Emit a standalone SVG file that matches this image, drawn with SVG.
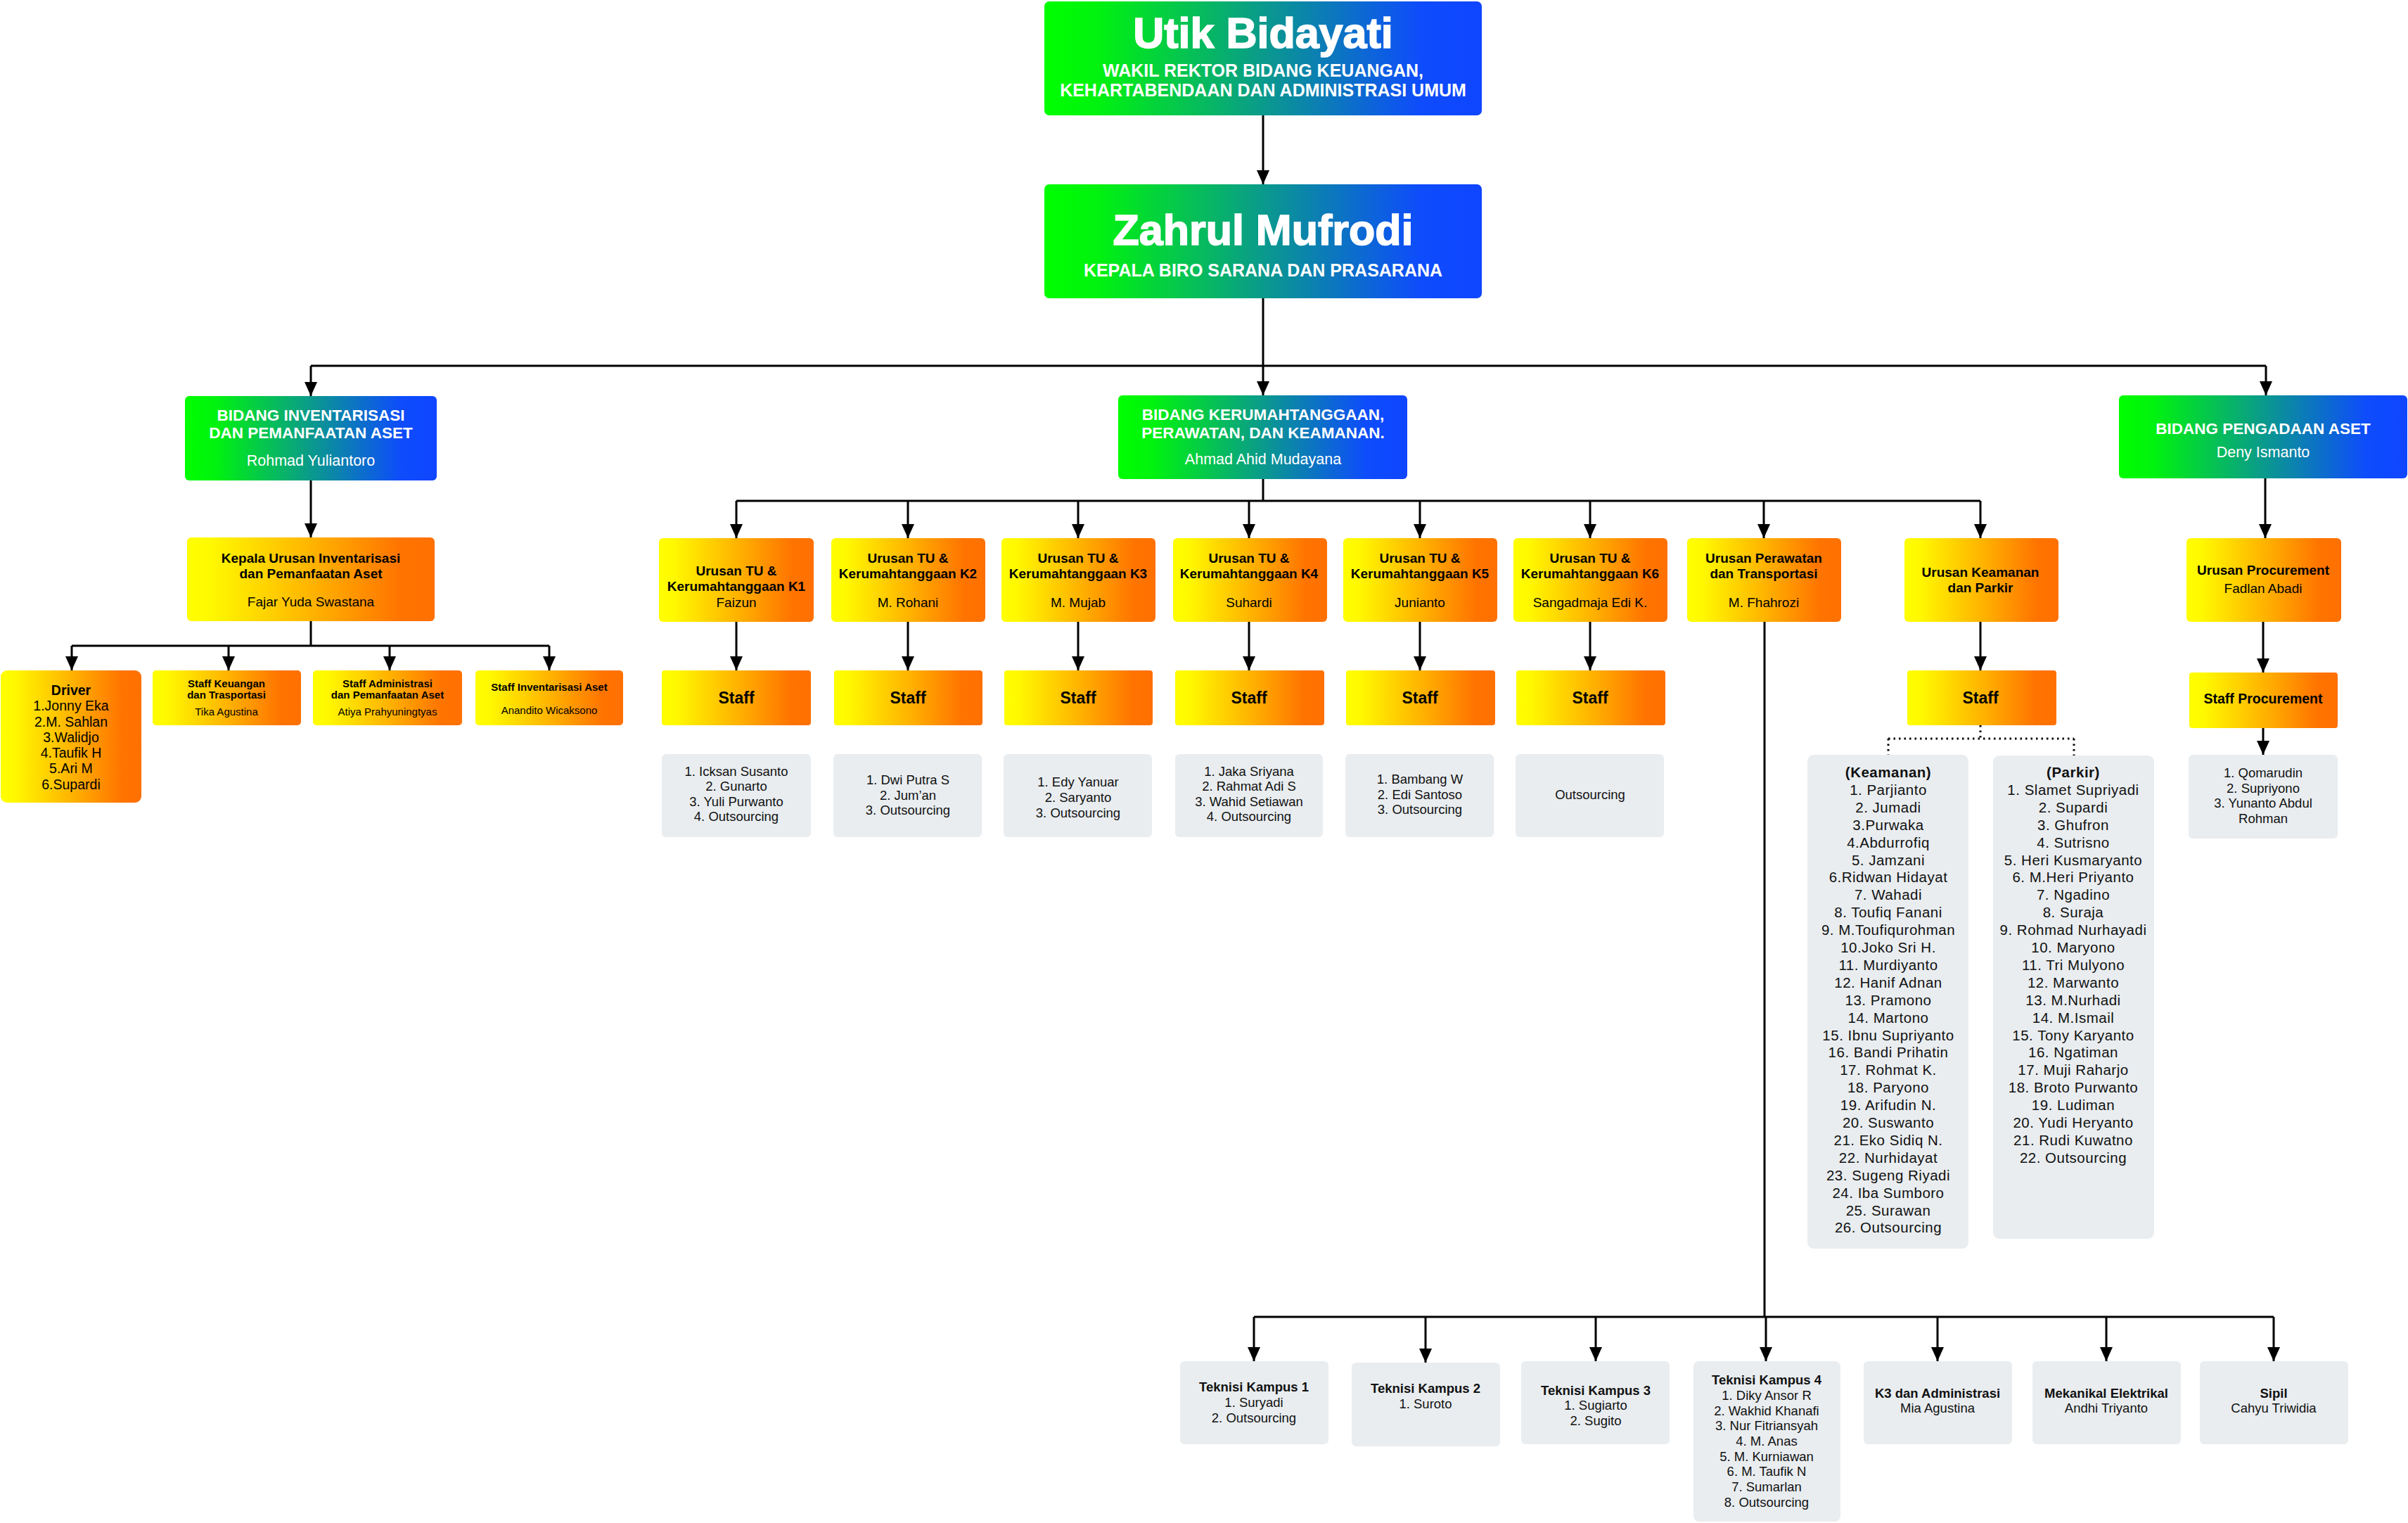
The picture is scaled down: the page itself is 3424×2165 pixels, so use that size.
<svg xmlns="http://www.w3.org/2000/svg" width="3424" height="2165" viewBox="0 0 3424 2165">
<defs>
<linearGradient id="gb" x1="0" y1="0" x2="1" y2="0">
<stop offset="0" stop-color="#00ff00"/><stop offset="0.12" stop-color="#00f30e"/><stop offset="0.5" stop-color="#0a9a8c"/><stop offset="0.86" stop-color="#0e4cfc"/><stop offset="1" stop-color="#0f45ff"/>
</linearGradient>
<linearGradient id="yo" x1="0" y1="0" x2="1" y2="0">
<stop offset="0" stop-color="#ffff00"/><stop offset="0.1" stop-color="#fff800"/><stop offset="0.5" stop-color="#ffb400"/><stop offset="0.86" stop-color="#ff7400"/><stop offset="1" stop-color="#ff7000"/>
</linearGradient>
<marker id="ah" viewBox="0 0 20 18" refX="20" refY="9" markerWidth="20" markerHeight="18" markerUnits="userSpaceOnUse" orient="auto">
<path d="M0,0 L20,9 L0,18 Z" fill="#000"/>
</marker>
<style>
text{font-family:"Liberation Sans",Arial,sans-serif;text-anchor:middle}
.g{fill:url(#gb)}
.o{fill:url(#yo)}
.l{fill:#e9edf0}
.w{fill:#fff}
.k{fill:#000}
.d{fill:#111}
.b{font-weight:bold}
.t1{font-size:61px;font-weight:bold;stroke:#fff;stroke-width:1.6px}
.t2{font-size:25px;font-weight:bold}
.bd{font-size:22.5px;font-weight:bold}
.bn{font-size:21.5px}
.u{font-size:19px}
.st{font-size:23px;font-weight:bold}
.ls{font-size:18.5px}
.sm{font-size:15px}
.kp{font-size:20.5px;letter-spacing:0.5px}
.c{fill:none;stroke:#000;stroke-width:3}
.ca{fill:none;stroke:#000;stroke-width:3;marker-end:url(#ah)}
.dt{fill:none;stroke:#000;stroke-width:3;stroke-dasharray:2.5 5}
</style>
</defs>
<rect width="3424" height="2165" fill="#fff"/>

<g id="connectors">
<path class="ca" d="M1796,164 V262"/>
<path class="c" d="M1796,424 V520"/>
<path class="c" d="M442,520 H3222"/>
<path class="ca" d="M442,520 V563"/>
<path class="ca" d="M1796,520 V562"/>
<path class="ca" d="M3222,520 V562"/>
<path class="ca" d="M442,683 V764"/>
<path class="c" d="M442,883 V918"/>
<path class="c" d="M102,918 H781"/>
<path class="ca" d="M102,918 V953"/>
<path class="ca" d="M325,918 V953"/>
<path class="ca" d="M554,918 V953"/>
<path class="ca" d="M781,918 V953"/>
<path class="c" d="M1796,681 V712"/>
<path class="c" d="M1047,712 H2816"/>
<path class="ca" d="M1047,712 V765"/>
<path class="ca" d="M1291,712 V765"/>
<path class="ca" d="M1533,712 V765"/>
<path class="ca" d="M1776,712 V765"/>
<path class="ca" d="M2019,712 V765"/>
<path class="ca" d="M2261,712 V765"/>
<path class="ca" d="M2508,712 V765"/>
<path class="ca" d="M2816,712 V765"/>
<path class="ca" d="M1047,884 V953"/>
<path class="ca" d="M1291,884 V953"/>
<path class="ca" d="M1533,884 V953"/>
<path class="ca" d="M1776,884 V953"/>
<path class="ca" d="M2019,884 V953"/>
<path class="ca" d="M2261,884 V953"/>
<path class="ca" d="M2816,884 V953"/>
<path class="c" d="M2509,884 V1872"/>
<path class="c" d="M1783,1872 H3233"/>
<path class="ca" d="M1783,1872 V1935"/>
<path class="ca" d="M2027,1872 V1937"/>
<path class="ca" d="M2269,1872 V1935"/>
<path class="ca" d="M2511,1872 V1935"/>
<path class="ca" d="M2755,1872 V1935"/>
<path class="ca" d="M2995,1872 V1935"/>
<path class="ca" d="M3233,1872 V1935"/>
<path class="dt" d="M2816,1031 V1050 M2685,1050 H2949 M2685,1050 V1073 M2949,1050 V1074"/>
<path class="ca" d="M3221,680 V765"/>
<path class="ca" d="M3218,884 V956"/>
<path class="ca" d="M3218,1035 V1073"/>
</g>

<g id="wr">
<rect class="g" x="1485" y="2" width="622" height="162" rx="7"/>
<text class="w t1" x="1796" y="68">Utik Bidayati</text>
<text class="w t2" x="1796" y="109">WAKIL REKTOR BIDANG KEUANGAN,</text>
<text class="w t2" x="1796" y="137">KEHARTABENDAAN DAN ADMINISTRASI UMUM</text>
</g>
<g id="kabiro">
<rect class="g" x="1485" y="262" width="622" height="162" rx="7"/>
<text class="w t1" x="1796" y="348">Zahrul Mufrodi</text>
<text class="w t2" x="1796" y="393">KEPALA BIRO SARANA DAN PRASARANA</text>
</g>

<g id="bidang-inv">
<rect class="g" x="263" y="563" width="358" height="120" rx="6"/>
<text class="w bd" x="442" y="598">BIDANG INVENTARISASI</text>
<text class="w bd" x="442" y="623">DAN PEMANFAATAN ASET</text>
<text class="w bn" x="442" y="662">Rohmad Yuliantoro</text>
</g>
<g id="bidang-ker">
<rect class="g" x="1590" y="562" width="411" height="119" rx="6"/>
<text class="w bd" x="1796" y="597">BIDANG KERUMAHTANGGAAN,</text>
<text class="w bd" x="1796" y="623">PERAWATAN, DAN KEAMANAN.</text>
<text class="w bn" x="1796" y="660">Ahmad Ahid Mudayana</text>
</g>
<g id="bidang-peng">
<rect class="g" x="3013" y="562" width="410" height="118" rx="6"/>
<text class="w bd" x="3218" y="617">BIDANG PENGADAAN ASET</text>
<text class="w bn" x="3218" y="650">Deny Ismanto</text>
</g>

<g id="kepala-inv">
<rect class="o" x="266" y="764" width="352" height="119" rx="6"/>
<text class="k u b" x="442" y="800">Kepala Urusan Inventarisasi</text>
<text class="k u b" x="442" y="822">dan Pemanfaatan Aset</text>
<text class="k u" x="442" y="862">Fajar Yuda Swastana</text>
</g>

<g id="driver">
<rect class="o" x="1" y="953" width="200" height="188" rx="9"/>
<text class="k b" style="font-size:19.5px" x="101" y="988">Driver</text>
<text class="k" style="font-size:19.5px"><tspan x="101" y="1010">1.Jonny Eka</tspan><tspan x="101" y="1033">2.M. Sahlan</tspan><tspan x="101" y="1055">3.Walidjo</tspan><tspan x="101" y="1077">4.Taufik H</tspan><tspan x="101" y="1099">5.Ari M</tspan><tspan x="101" y="1122">6.Supardi</tspan></text>
</g>
<g id="staff-keu">
<rect class="o" x="217" y="953" width="211" height="78" rx="5"/>
<text class="k sm b" x="322" y="977">Staff Keuangan</text>
<text class="k sm b" x="322" y="993">dan Trasportasi</text>
<text class="k sm" x="322" y="1017">Tika Agustina</text>
</g>
<g id="staff-adm">
<rect class="o" x="445" y="953" width="212" height="78" rx="5"/>
<text class="k sm b" x="551" y="977">Staff Administrasi</text>
<text class="k sm b" x="551" y="993">dan Pemanfaatan Aset</text>
<text class="k sm" x="551" y="1017">Atiya Prahyuningtyas</text>
</g>
<g id="staff-inv">
<rect class="o" x="676" y="953" width="210" height="78" rx="5"/>
<text class="k sm b" x="781" y="982">Staff Inventarisasi Aset</text>
<text class="k sm" x="781" y="1015">Anandito Wicaksono</text>
</g>

<g id="k1">
<rect class="o" x="937" y="765" width="220" height="119" rx="6"/>
<text class="k u b" x="1047" y="818">Urusan TU &amp;</text>
<text class="k u b" x="1047" y="840">Kerumahtanggaan K1</text>
<text class="k u" x="1047" y="863">Faizun</text>
</g>
<g id="k2">
<rect class="o" x="1182" y="765" width="219" height="119" rx="6"/>
<text class="k u b" x="1291" y="800">Urusan TU &amp;</text>
<text class="k u b" x="1291" y="822">Kerumahtanggaan K2</text>
<text class="k u" x="1291" y="863">M. Rohani</text>
</g>
<g id="k3">
<rect class="o" x="1424" y="765" width="219" height="119" rx="6"/>
<text class="k u b" x="1533" y="800">Urusan TU &amp;</text>
<text class="k u b" x="1533" y="822">Kerumahtanggaan K3</text>
<text class="k u" x="1533" y="863">M. Mujab</text>
</g>
<g id="k4">
<rect class="o" x="1668" y="765" width="219" height="119" rx="6"/>
<text class="k u b" x="1776" y="800">Urusan TU &amp;</text>
<text class="k u b" x="1776" y="822">Kerumahtanggaan K4</text>
<text class="k u" x="1776" y="863">Suhardi</text>
</g>
<g id="k5">
<rect class="o" x="1910" y="765" width="219" height="119" rx="6"/>
<text class="k u b" x="2019" y="800">Urusan TU &amp;</text>
<text class="k u b" x="2019" y="822">Kerumahtanggaan K5</text>
<text class="k u" x="2019" y="863">Junianto</text>
</g>
<g id="k6">
<rect class="o" x="2152" y="765" width="219" height="119" rx="6"/>
<text class="k u b" x="2261" y="800">Urusan TU &amp;</text>
<text class="k u b" x="2261" y="822">Kerumahtanggaan K6</text>
<text class="k u" x="2261" y="863">Sangadmaja Edi K.</text>
</g>
<g id="perawatan">
<rect class="o" x="2399" y="765" width="219" height="119" rx="6"/>
<text class="k u b" x="2508" y="800">Urusan Perawatan</text>
<text class="k u b" x="2508" y="822">dan Transportasi</text>
<text class="k u" x="2508" y="863">M. Fhahrozi</text>
</g>
<g id="keamanan">
<rect class="o" x="2708" y="765" width="219" height="119" rx="6"/>
<text class="k u b" x="2816" y="820">Urusan Keamanan</text>
<text class="k u b" x="2816" y="842">dan Parkir</text>
</g>
<g id="procurement">
<rect class="o" x="3109" y="765" width="220" height="119" rx="6"/>
<text class="k u b" x="3218" y="817">Urusan Procurement</text>
<text class="k u" x="3218" y="843">Fadlan Abadi</text>
</g>

<g id="staff-k1"><rect class="o" x="941" y="953" width="212" height="78" rx="4"/><text class="k st" x="1047" y="1000">Staff</text></g>
<g id="staff-k2"><rect class="o" x="1186" y="953" width="211" height="78" rx="4"/><text class="k st" x="1291" y="1000">Staff</text></g>
<g id="staff-k3"><rect class="o" x="1428" y="953" width="211" height="78" rx="4"/><text class="k st" x="1533" y="1000">Staff</text></g>
<g id="staff-k4"><rect class="o" x="1671" y="953" width="212" height="78" rx="4"/><text class="k st" x="1776" y="1000">Staff</text></g>
<g id="staff-k5"><rect class="o" x="1914" y="953" width="212" height="78" rx="4"/><text class="k st" x="2019" y="1000">Staff</text></g>
<g id="staff-k6"><rect class="o" x="2156" y="953" width="212" height="78" rx="4"/><text class="k st" x="2261" y="1000">Staff</text></g>
<g id="staff-keamanan"><rect class="o" x="2712" y="953" width="212" height="78" rx="4"/><text class="k st" x="2816" y="1000">Staff</text></g>
<g id="staff-proc"><rect class="o" x="3113" y="956" width="211" height="79" rx="4"/><text class="k b" style="font-size:19.5px" x="3218" y="1000">Staff Procurement</text></g>

<g id="list-k1">
<rect class="l" x="941" y="1072" width="212" height="118" rx="6"/>
<text class="d ls"><tspan x="1047" y="1103">1. Icksan Susanto</tspan><tspan x="1047" y="1124">2. Gunarto</tspan><tspan x="1047" y="1146">3. Yuli Purwanto</tspan><tspan x="1047" y="1167">4. Outsourcing</tspan></text>
</g>
<g id="list-k2">
<rect class="l" x="1185" y="1072" width="211" height="118" rx="6"/>
<text class="d ls"><tspan x="1291" y="1115">1. Dwi Putra S</tspan><tspan x="1291" y="1137">2. Jum’an</tspan><tspan x="1291" y="1158">3. Outsourcing</tspan></text>
</g>
<g id="list-k3">
<rect class="l" x="1427" y="1072" width="211" height="118" rx="6"/>
<text class="d ls"><tspan x="1533" y="1118">1. Edy Yanuar</tspan><tspan x="1533" y="1140">2. Saryanto</tspan><tspan x="1533" y="1162">3. Outsourcing</tspan></text>
</g>
<g id="list-k4">
<rect class="l" x="1671" y="1072" width="210" height="118" rx="6"/>
<text class="d ls"><tspan x="1776" y="1103">1. Jaka Sriyana</tspan><tspan x="1776" y="1124">2. Rahmat Adi S</tspan><tspan x="1776" y="1146">3. Wahid Setiawan</tspan><tspan x="1776" y="1167">4. Outsourcing</tspan></text>
</g>
<g id="list-k5">
<rect class="l" x="1913" y="1072" width="211" height="118" rx="6"/>
<text class="d ls"><tspan x="2019" y="1114">1. Bambang W</tspan><tspan x="2019" y="1136">2. Edi Santoso</tspan><tspan x="2019" y="1157">3. Outsourcing</tspan></text>
</g>
<g id="list-k6">
<rect class="l" x="2155" y="1072" width="211" height="118" rx="6"/>
<text class="d ls" x="2261" y="1136">Outsourcing</text>
</g>

<g id="list-keamanan">
<rect class="l" x="2570" y="1073" width="229" height="702" rx="9"/>
<text class="d kp"><tspan class="b" x="2685" y="1105">(Keamanan)</tspan><tspan x="2685" dy="24.9">1. Parjianto</tspan><tspan x="2685" dy="24.9">2. Jumadi</tspan><tspan x="2685" dy="24.9">3.Purwaka</tspan><tspan x="2685" dy="24.9">4.Abdurrofiq</tspan><tspan x="2685" dy="24.9">5. Jamzani</tspan><tspan x="2685" dy="24.9">6.Ridwan Hidayat</tspan><tspan x="2685" dy="24.9">7. Wahadi</tspan><tspan x="2685" dy="24.9">8. Toufiq Fanani</tspan><tspan x="2685" dy="24.9">9. M.Toufiqurohman</tspan><tspan x="2685" dy="24.9">10.Joko Sri H.</tspan><tspan x="2685" dy="24.9">11. Murdiyanto</tspan><tspan x="2685" dy="24.9">12. Hanif Adnan</tspan><tspan x="2685" dy="24.9">13. Pramono</tspan><tspan x="2685" dy="24.9">14. Martono</tspan><tspan x="2685" dy="24.9">15. Ibnu Supriyanto</tspan><tspan x="2685" dy="24.9">16. Bandi Prihatin</tspan><tspan x="2685" dy="24.9">17. Rohmat K.</tspan><tspan x="2685" dy="24.9">18. Paryono</tspan><tspan x="2685" dy="24.9">19. Arifudin N.</tspan><tspan x="2685" dy="24.9">20. Suswanto</tspan><tspan x="2685" dy="24.9">21. Eko Sidiq N.</tspan><tspan x="2685" dy="24.9">22. Nurhidayat</tspan><tspan x="2685" dy="24.9">23. Sugeng Riyadi</tspan><tspan x="2685" dy="24.9">24. Iba Sumboro</tspan><tspan x="2685" dy="24.9">25. Surawan</tspan><tspan x="2685" dy="24.9">26. Outsourcing</tspan></text>
</g>
<g id="list-parkir">
<rect class="l" x="2834" y="1074" width="229" height="687" rx="9"/>
<text class="d kp"><tspan class="b" x="2948" y="1105">(Parkir)</tspan><tspan x="2948" dy="24.9">1. Slamet Supriyadi</tspan><tspan x="2948" dy="24.9">2. Supardi</tspan><tspan x="2948" dy="24.9">3. Ghufron</tspan><tspan x="2948" dy="24.9">4. Sutrisno</tspan><tspan x="2948" dy="24.9">5. Heri Kusmaryanto</tspan><tspan x="2948" dy="24.9">6. M.Heri Priyanto</tspan><tspan x="2948" dy="24.9">7. Ngadino</tspan><tspan x="2948" dy="24.9">8. Suraja</tspan><tspan x="2948" dy="24.9">9. Rohmad Nurhayadi</tspan><tspan x="2948" dy="24.9">10. Maryono</tspan><tspan x="2948" dy="24.9">11. Tri Mulyono</tspan><tspan x="2948" dy="24.9">12. Marwanto</tspan><tspan x="2948" dy="24.9">13. M.Nurhadi</tspan><tspan x="2948" dy="24.9">14. M.Ismail</tspan><tspan x="2948" dy="24.9">15. Tony Karyanto</tspan><tspan x="2948" dy="24.9">16. Ngatiman</tspan><tspan x="2948" dy="24.9">17. Muji Raharjo</tspan><tspan x="2948" dy="24.9">18. Broto Purwanto</tspan><tspan x="2948" dy="24.9">19. Ludiman</tspan><tspan x="2948" dy="24.9">20. Yudi Heryanto</tspan><tspan x="2948" dy="24.9">21. Rudi Kuwatno</tspan><tspan x="2948" dy="24.9">22. Outsourcing</tspan></text>
</g>
<g id="list-proc">
<rect class="l" x="3112" y="1073" width="212" height="119" rx="6"/>
<text class="d ls"><tspan x="3218" y="1105">1. Qomarudin</tspan><tspan x="3218" y="1127">2. Supriyono</tspan><tspan x="3218" y="1148">3. Yunanto Abdul</tspan><tspan x="3218" y="1170">Rohman</tspan></text>
</g>

<g id="teknisi1">
<rect class="l" x="1678" y="1935" width="211" height="118" rx="6"/>
<text class="d ls"><tspan class="b" x="1783" y="1978">Teknisi Kampus 1</tspan><tspan x="1783" y="2000">1. Suryadi</tspan><tspan x="1783" y="2022">2. Outsourcing</tspan></text>
</g>
<g id="teknisi2">
<rect class="l" x="1922" y="1937" width="211" height="119" rx="6"/>
<text class="d ls"><tspan class="b" x="2027" y="1980">Teknisi Kampus 2</tspan><tspan x="2027" y="2002">1. Suroto</tspan></text>
</g>
<g id="teknisi3">
<rect class="l" x="2163" y="1935" width="211" height="118" rx="6"/>
<text class="d ls"><tspan class="b" x="2269" y="1983">Teknisi Kampus 3</tspan><tspan x="2269" y="2004">1. Sugiarto</tspan><tspan x="2269" y="2026">2. Sugito</tspan></text>
</g>
<g id="teknisi4">
<rect class="l" x="2408" y="1935" width="209" height="228" rx="8"/>
<text class="d ls"><tspan class="b" x="2512" y="1968">Teknisi Kampus 4</tspan><tspan x="2512" y="1990">1. Diky Ansor R</tspan><tspan x="2512" y="2012">2. Wakhid Khanafi</tspan><tspan x="2512" y="2033">3. Nur Fitriansyah</tspan><tspan x="2512" y="2055">4. M. Anas</tspan><tspan x="2512" y="2077">5. M. Kurniawan</tspan><tspan x="2512" y="2098">6. M. Taufik N</tspan><tspan x="2512" y="2120">7. Sumarlan</tspan><tspan x="2512" y="2142">8. Outsourcing</tspan></text>
</g>
<g id="k3adm">
<rect class="l" x="2650" y="1935" width="211" height="118" rx="6"/>
<text class="d ls"><tspan class="b" x="2755" y="1987">K3 dan Administrasi</tspan><tspan x="2755" y="2008">Mia Agustina</tspan></text>
</g>
<g id="mekanikal">
<rect class="l" x="2890" y="1935" width="211" height="118" rx="6"/>
<text class="d ls"><tspan class="b" x="2995" y="1987">Mekanikal Elektrikal</tspan><tspan x="2995" y="2008">Andhi Triyanto</tspan></text>
</g>
<g id="sipil">
<rect class="l" x="3128" y="1935" width="211" height="118" rx="6"/>
<text class="d ls"><tspan class="b" x="3233" y="1987">Sipil</tspan><tspan x="3233" y="2008">Cahyu Triwidia</tspan></text>
</g>
</svg>
